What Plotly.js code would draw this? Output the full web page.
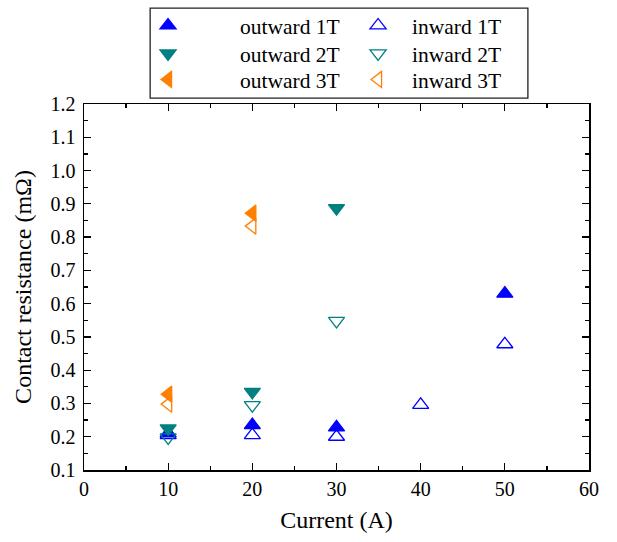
<!DOCTYPE html>
<html>
<head>
<meta charset="utf-8">
<script src="https://cdn.plot.ly/plotly-3.0.1.min.js"></script>
<style>html,body{margin:0;padding:0;background:#fff;}#chart{width:617px;height:542px;}</style>
</head>
<body>
<div id="chart"></div>
<script>
// Data
const outward1T_x = [10, 20, 30, 50];
const outward1T_y = [0.21, 0.235, 0.228, 0.63];
const inward1T_x = [10, 20, 30, 40, 50];
const inward1T_y = [0.205, 0.205, 0.2, 0.296, 0.478];
const outward2T_x = [10, 20, 30];
const outward2T_y = [0.225, 0.335, 0.887];
const inward2T_x = [10, 20, 30];
const inward2T_y = [0.198, 0.295, 0.548];
const outward3T_x = [10, 20];
const outward3T_y = [0.328, 0.872];
const inward3T_x = [10, 20];
const inward3T_y = [0.298, 0.833];

const xTitle = "Current (A)";
const yTitle = "Contact resistance (mΩ)";

const FONT = '"Liberation Serif", "Times New Roman", Times, serif';
const BLUE = '#0000FF', TEAL = '#008080', ORANGE = '#FF8000';
const MS = 14;

function tr(name, x, y, symbol, color, legend) {
  return {
    type: 'scatter', mode: 'markers', name: name, x: x, y: y,
    legend: legend,
    marker: {symbol: symbol, size: MS, color: color, line: {color: color, width: 1.3}},
    hoverinfo: 'x+y'
  };
}

const data = [
  tr('outward 1T', outward1T_x, outward1T_y, 'triangle-up', BLUE, 'legend'),
  tr('inward 1T', inward1T_x, inward1T_y, 'triangle-up-open', BLUE, 'legend2'),
  tr('outward 2T', outward2T_x, outward2T_y, 'triangle-down', TEAL, 'legend3'),
  tr('inward 2T', inward2T_x, inward2T_y, 'triangle-down-open', TEAL, 'legend4'),
  tr('outward 3T', outward3T_x, outward3T_y, 'triangle-left', ORANGE, 'legend5'),
  tr('inward 3T', inward3T_x, inward3T_y, 'triangle-left-open', ORANGE, 'legend6')
];

const axisCommon = {
  showline: true, linecolor: '#000', linewidth: 1.5, mirror: 'allticks',
  ticks: 'inside', ticklen: 7, tickwidth: 1.3, tickcolor: '#000',
  showgrid: false, zeroline: false,
  tickfont: {family: FONT, size: 20, color: '#000'},
  fixedrange: true
};

function leg(x, y, iw) {
  return {
    x: x, xanchor: 'left', y: y, yanchor: 'middle',
    orientation: 'v', itemwidth: iw, bgcolor: 'rgba(0,0,0,0)', borderwidth: 0,
    font: {family: FONT, size: 21.5, color: '#000'}, tracegroupgap: 0
  };
}
const colX1 = 0.0238, colX2 = 0.515;
const rowY = [1.2145, 1.138, 1.067];

const layout = {
  width: 617, height: 542,
  margin: {l: 84, r: 28, t: 104, b: 72, pad: 0, autoexpand: false},
  paper_bgcolor: '#fff', plot_bgcolor: '#fff',
  font: {family: FONT, size: 21, color: '#000'},
  showlegend: true,
  xaxis: Object.assign({}, axisCommon, {
    range: [0, 60], dtick: 10, tick0: 0,
    minor: {dtick: 5, ticks: 'inside', ticklen: 4, tickwidth: 1.2, tickcolor: '#000', showgrid: false},
    title: {text: xTitle, font: {family: FONT, size: 24, color: '#000'}, standoff: 12}
  }),
  yaxis: Object.assign({}, axisCommon, {
    range: [0.1, 1.2], dtick: 0.1, tick0: 0.1, tickformat: '.1f', ticklabelstandoff: 3,
    minor: {dtick: 0.05, ticks: 'inside', ticklen: 4, tickwidth: 1.2, tickcolor: '#000', showgrid: false},
    title: {text: yTitle, font: {family: FONT, size: 24, color: '#000'}, standoff: 12}
  }),
  legend: leg(colX1, rowY[0], 134),
  legend2: leg(colX2, rowY[0], 58),
  legend3: leg(colX1, rowY[1], 134),
  legend4: leg(colX2, rowY[1], 58),
  legend5: leg(colX1, rowY[2], 134),
  legend6: leg(colX2, rowY[2], 58),
  shapes: [{
    type: 'rect', xref: 'paper', yref: 'paper',
    x0: 0.131, x1: 0.879, y0: 1.016, y1: 1.262,
    line: {color: '#222', width: 1.3}, fillcolor: 'rgba(0,0,0,0)', layer: 'above'
  }]
};

Plotly.newPlot('chart', data, layout, {displayModeBar: false, staticPlot: true});
</script>
</body>
</html>
